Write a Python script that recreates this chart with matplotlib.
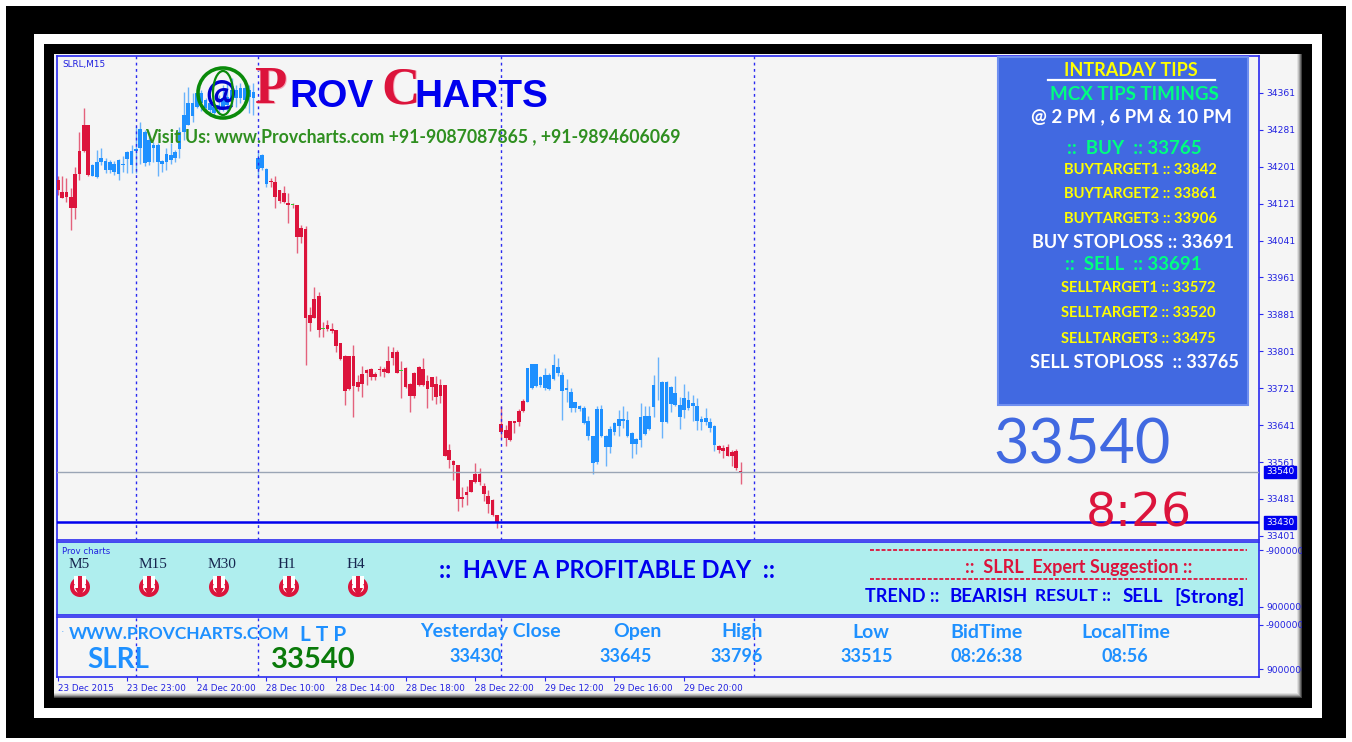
import matplotlib
matplotlib.use('Agg')
import numpy as np
import matplotlib.pyplot as plt
from matplotlib.patches import Rectangle, Circle, Polygon

highs = [34180,34180,34176,34154,34200,34276,34328,34292,34208,34237,
         34241,34219,34216,34214,34217,34224,34236,34248,34288,34299,
         34281,34277,34255,34252,34216,34241,34252,34237,34288,34364,
         34373,34360,34375,34367,34349,34346,34342,34357,34378,34382,
         34393,34378,34382,34386,34378,34382,34235,34228,34198,34176,
         34180,34151,34160,34144,34122,34118,34075,34072,33896,33941,
         33930,33865,33869,33863,33847,33820,33793,33791,33815,33750,
         33769,33762,33764,33757,33769,33766,33813,33810,33803,33779,
         33766,33732,33757,33769,33786,33750,33746,33748,33740,33728,
         33600,33566,33555,33507,33508,33522,33559,33548,33515,33501,
         33481,33447,33682,33642,33649,33649,33676,33697,33765,33774,
         33774,33747,33765,33755,33796,33786,33757,33741,33721,33692,
         33685,33682,33660,33617,33682,33685,33620,33640,33647,33673,
         33683,33671,33627,33613,33689,33683,33682,33750,33788,33736,
         33736,33725,33748,33702,33730,33714,33707,33700,33660,33679,
         33656,33642,33598,33598,33600,33588,33589,33562]
lows = [34140,34133,34125,34064,34087,34172,34234,34181,34180,34176,
        34205,34188,34188,34183,34172,34190,34187,34187,34187,34208,
        34203,34205,34212,34180,34190,34194,34208,34212,34219,34259,
        34292,34299,34328,34321,34317,34310,34310,34317,34321,34321,
        34335,34331,34339,34328,34317,34313,34176,34194,34156,34158,
        34111,34122,34122,34079,34111,34014,34035,33772,33844,33873,
        33833,33833,33844,33840,33800,33782,33685,33717,33658,33714,
        33703,33728,33738,33738,33748,33746,33755,33772,33754,33699,
        33721,33670,33699,33726,33726,33678,33696,33687,33690,33573,
        33548,33522,33454,33463,33468,33496,33515,33512,33476,33450,
        33443,33419,33613,33596,33607,33624,33640,33669,33691,33720,
        33723,33723,33718,33718,33739,33747,33653,33692,33669,33669,
        33671,33644,33608,33535,33557,33615,33553,33581,33620,33617,
        33635,33615,33570,33579,33594,33620,33631,33658,33696,33612,
        33645,33669,33682,33633,33656,33674,33649,33631,33630,33642,
        33625,33584,33580,33570,33573,33553,33543,33513]
tops = [34172,34147,34146,34135,34185,34235,34292,34292,34205,34211,
        34221,34214,34212,34207,34216,34208,34234,34236,34239,34282,
        34277,34259,34248,34248,34214,34229,34227,34234,34277,34313,
        34339,34339,34360,34360,34346,34339,34331,34335,34349,34353,
        34367,34367,34371,34371,34367,34364,34220,34227,34196,34171,
        34167,34151,34144,34122,34120,34117,34069,34066,33880,33914,
        33920,33851,33858,33849,33847,33820,33790,33790,33790,33735,
        33752,33761,33762,33752,33763,33762,33780,33800,33800,33760,
        33764,33730,33755,33766,33762,33737,33745,33730,33728,33728,
        33587,33564,33554,33486,33496,33521,33535,33535,33509,33488,
        33479,33447,33644,33631,33649,33649,33671,33694,33765,33774,
        33774,33745,33749,33750,33772,33767,33750,33721,33713,33691,
        33682,33679,33649,33617,33677,33676,33618,33632,33645,33655,
        33654,33653,33624,33611,33658,33660,33661,33728,33741,33734,
        33734,33723,33710,33684,33700,33695,33689,33682,33654,33656,
        33647,33640,33596,33591,33593,33582,33584,33542]
bottoms = [34151,34133,34135,34112,34112,34185,34235,34183,34180,34178,
           34212,34193,34193,34189,34185,34205,34217,34205,34236,34241,
           34210,34212,34241,34212,34208,34212,34216,34219,34239,34277,
           34292,34310,34331,34339,34328,34324,34317,34328,34328,34335,
           34346,34349,34349,34346,34353,34349,34196,34198,34163,34168,
           34136,34127,34124,34118,34119,34048,34048,33873,33862,33873,
           33847,33850,33850,33844,33813,33784,33714,33719,33725,33723,
           33730,33755,33745,33746,33761,33757,33755,33786,33754,33759,
           33723,33704,33704,33728,33728,33719,33723,33703,33705,33574,
           33566,33555,33481,33481,33490,33497,33517,33517,33492,33470,
           33447,33430,33627,33613,33608,33645,33647,33671,33692,33721,
           33725,33729,33721,33719,33741,33755,33714,33718,33678,33678,
           33677,33645,33618,33559,33562,33617,33594,33594,33625,33638,
           33649,33618,33599,33599,33608,33622,33632,33680,33740,33648,
           33648,33687,33685,33658,33673,33679,33683,33649,33648,33647,
           33635,33597,33586,33584,33575,33575,33548,33539]
# r red, b blue, g doji on a red wick, h doji on a blue wick
trend = 'r'*8 + 'b'*41 + 'r'*5 + 'g' + 'r'*6 + 'g' + 'r'*17 + 'g' + 'r'*28 + 'b'*30 + 'h' + 'b'*13 + 'r'*6

price_ticks = [34361,34281,34201,34121,34041,33961,33881,33801,33721,33641,33561,33481,33401]
last_price = 33540
prev_close = 33430
period_bars = [18, 46, 102, 160]
time_bars = [0, 16, 32, 48, 64, 80, 96, 112, 128, 144]
time_labels = ['23 Dec 2015', '23 Dec 23:00', '24 Dec 20:00', '28 Dec 10:00', '28 Dec 14:00',
               '28 Dec 18:00', '28 Dec 22:00', '29 Dec 12:00', '29 Dec 16:00', '29 Dec 20:00']
timeframes = ['M5', 'M15', 'M30', 'H1', 'H4']

RED = '#DC143C'
BLUE = '#1E90FF'
GREEN = '#32CD32'
AXIS = '#2a2af0'
GREY = '#f5f5f5'
W, H = 1352, 742

def rect_of(x0, y0, x1, y1):
    return [x0/W, 1-y1/H, (x1-x0)/W, (y1-y0)/H]

fig = plt.figure(figsize=(W/100, H/100), dpi=100, facecolor='white')

# picture frame behind the charts
bg = fig.add_axes([0, 0, 1, 1], zorder=0)
bg.set_xlim(0, W)
bg.set_ylim(H, 0)
bg.axis('off')
for (x0, y0, x1, y1, c) in [(6, 6, 1346, 738, 'black'), (34, 34, 1322, 718, 'white'),
                            (44, 44, 1312, 708, 'black'), (54, 54, 1302, 698, GREY)]:
    bg.add_patch(Rectangle((x0, y0), x1-x0, y1-y0, fc=c, ec='none'))
for k, c in enumerate(['#e0e0e0', '#c4c4c4', '#a0a0a0', '#707070', '#404040']):
    bg.add_patch(Rectangle((54, 693+k), 1248, 1, fc=c, ec='none'))
    bg.add_patch(Rectangle((1297+k, 54), 1, 644, fc=c, ec='none'))

xs = np.arange(len(highs))
xlim = (-0.16, 276.2)

def style_panel(ax):
    ax.set_xlim(*xlim)
    ax.yaxis.tick_right()
    ax.tick_params(axis='y', length=3, width=0.8, color=AXIS, labelcolor='#2020e0', labelsize=6.6, pad=2)
    ax.tick_params(axis='x', length=0)
    ax.set_xticks([])
    for s in ax.spines.values():
        s.set_color(AXIS)
        s.set_linewidth(1.2)
    for lab in ax.get_yticklabels():
        lab.set_family('DejaVu Sans')

# price chart
ax = fig.add_axes(rect_of(57, 56, 1259, 540), zorder=1, facecolor=GREY)
ax.set_ylim(33392, 34441)
for i in xs:
    t = trend[i]
    wick = BLUE if t in 'bh' else RED
    body = GREEN if t in 'gh' else wick
    ax.vlines(i, lows[i], highs[i], color=wick, lw=1, alpha=0.65, zorder=2)
    ax.bar(i, max(tops[i]-bottoms[i], 1.5), bottom=bottoms[i], width=0.85, color=body, linewidth=0, zorder=3)
ax.axhline(last_price, color='#9aa5b5', lw=1, zorder=4)
ax.axhline(prev_close, color='#0000ee', lw=1.8, zorder=4)
ax.set_yticks(price_ticks)
ax.set_yticklabels([str(p) for p in price_ticks])
style_panel(ax)
for v in period_bars:
    ax.axvline(v, color='#2a2af0', lw=1, ls=(0, (2, 2.5)), zorder=5)
for p in (last_price, prev_close):
    ax.annotate(str(p), xy=(1, p), xycoords=ax.get_yaxis_transform(), xytext=(5, 0), textcoords='offset points',
                va='center', ha='left', fontsize=6.4, color='white', family='DejaVu Sans',
                bbox=dict(boxstyle='square,pad=0.18', fc='#0000ee', ec='#0000ee'), annotation_clip=False, zorder=9)

# signal panel
ax2 = fig.add_axes(rect_of(57, 542, 1259, 615), zorder=1, facecolor='#AFEEEE')
ax2.set_ylim(11526316, -11526316)
ax2.set_yticks([-9000000, 9000000])
ax2.set_yticklabels(['-9000000', '9000000'])
style_panel(ax2)

# info panel
ax3 = fig.add_axes(rect_of(57, 617, 1259, 677), zorder=1, facecolor=GREY)
ax3.set_ylim(12272727, -12272727)
ax3.set_yticks([-9000000, 9000000])
ax3.set_yticklabels(['-9000000', '9000000'])
style_panel(ax3)
for v in period_bars:
    ax3.axvline(v, color='#2a2af0', lw=1, ls=(0, (2, 2.5)), zorder=5)
ax3.set_xticks(time_bars)
ax3.set_xticklabels(time_labels, ha='left', fontsize=6.3, color='#2020e0', family='DejaVu Sans')
ax3.tick_params(axis='x', length=3, width=0.8, color=AXIS, pad=2)

# everything painted by the indicators goes on a pixel overlay
over = fig.add_axes([0, 0, 1, 1], zorder=3)
over.set_xlim(0, W)
over.set_ylim(H, 0)
over.axis('off')
over.patch.set_visible(False)
over.add_patch(Rectangle((1302, 540), 10, 150, fc='black', ec='none', zorder=8))

def put(x, y, s, size, color, ha='center', weight='bold', family='Lato', **kw):
    return over.text(x, y, s, fontsize=size, color=color, ha=ha, va='center', fontweight=weight, family=family, zorder=6, **kw)

put(62, 64, 'SLRL,M15', 6.4, '#2020e0', ha='left', weight='normal', family='DejaVu Sans')

# logo
put(221, 96, '@', 26, '#0000cd')
over.add_patch(Circle((223, 93), 25, fc='none', ec='#0a8a0a', lw=2.6, zorder=6))
over.add_patch(plt.matplotlib.patches.Ellipse((223, 93), 20, 44, fc='none', ec='#0a8a0a', lw=1.6, zorder=6))
put(255, 91, 'P', 38, '#f4a8b8', ha='left', family='Liberation Serif')
put(254, 90, 'P', 38, RED, ha='left', family='Liberation Serif')
put(289, 97, 'ROV', 28, '#0000ee', ha='left', family='Liberation Sans')
put(382, 91, 'C', 38, '#f4a8b8', ha='left', family='Liberation Serif')
put(381, 90, 'C', 38, RED, ha='left', family='Liberation Serif')
put(414, 97, 'HARTS', 28, '#0000ee', ha='left', family='Liberation Sans')
put(145, 137, 'Visit Us: www.Provcharts.com +91-9087087865 , +91-9894606069', 12.7, '#2f8f20', ha='left')

# tips box
over.add_patch(Rectangle((998, 57), 250, 348, fc='#4169E1', ec='#6f8ff0', lw=1.5, zorder=5))
over.plot([1048, 1215], [80, 80], color='white', lw=1.6, zorder=6)
YEL = '#FFFF00'
SPR = '#00FF7F'
tips = [(1131, 70, 'INTRADAY TIPS', 13, YEL), (1134, 94, 'MCX TIPS TIMINGS', 13.5, SPR),
        (1131, 117, '@ 2 PM , 6 PM & 10 PM', 13.5, 'white'), (1134, 149, '::  BUY  :: 33765', 13.5, SPR),
        (1140, 170, 'BUYTARGET1 :: 33842', 10.6, YEL), (1140, 194, 'BUYTARGET2 :: 33861', 10.6, YEL),
        (1140, 219, 'BUYTARGET3 :: 33906', 10.6, YEL), (1133, 243, 'BUY STOPLOSS :: 33691', 13, 'white'),
        (1133, 265, '::  SELL  :: 33691', 13.5, SPR), (1138, 288, 'SELLTARGET1 :: 33572', 10.6, YEL),
        (1138, 313, 'SELLTARGET2 :: 33520', 10.6, YEL), (1138, 339, 'SELLTARGET3 :: 33475', 10.6, YEL),
        (1134, 363, 'SELL STOPLOSS  :: 33765', 13, 'white')]
for (x, y, s, size, c) in tips:
    put(x, y, s, size, c)

put(1082, 446, str(last_price), 44, '#4169E1', weight='normal')
put(1139, 514, '8:26', 34, RED, weight='normal', family='DejaVu Sans')

# signal panel text
put(62, 552, 'Prov charts', 6.2, '#2020e0', ha='left', weight='normal', family='DejaVu Sans')
tf_text_x = [79, 153, 222, 287, 356]
tf_icon_x = [80, 149, 219, 289, 358]
for x, xi, name in zip(tf_text_x, tf_icon_x, timeframes):
    put(x, 564, name, 11, '#16264f', weight='normal', family='Liberation Serif')
    over.add_patch(Circle((xi, 587), 10, fc=RED, ec='none', zorder=6))
    over.add_patch(Circle((xi, 587), 6, fc='white', ec='none', zorder=6))
    over.add_patch(Rectangle((xi-6, 576), 12, 8, fc='white', ec='none', zorder=6))
    over.add_patch(Polygon([[xi-2, 576], [xi+2, 576], [xi+2, 588], [xi+5, 588], [xi, 597], [xi-5, 588], [xi-2, 588]],
                           fc=RED, ec='none', zorder=6))
put(607, 571, '::  HAVE A PROFITABLE DAY  ::', 17, '#0000ee')
over.plot([870, 1247], [550, 550], color=RED, lw=1.3, ls=(0, (2.2, 1)), zorder=6)
over.plot([870, 1247], [579, 579], color=RED, lw=1.3, ls=(0, (2.2, 1)), zorder=6)
put(1079, 567, '::  SLRL  Expert Suggestion ::', 13, RED)
put(902, 596, 'TREND ::', 13, '#0000ee')
put(989, 597, 'BEARISH', 13.5, '#0000ee')
put(1073, 596, 'RESULT ::', 12.5, '#0000ee')
put(1143, 597, 'SELL', 13.5, '#0000ee')
put(1210, 597, '[Strong]', 14, '#0000ee')

# info panel text
put(63, 629, '.', 5, BLUE)
put(179, 634, 'WWW.PROVCHARTS.COM', 12.5, BLUE)
put(323, 635, 'L T P', 15, BLUE)
put(118, 660, 'SLRL', 20, BLUE)
put(313, 660, str(last_price), 21, '#0a7a0a')
heads = [(490, 'Yesterday Close'), (637, 'Open'), (742, 'High'), (871, 'Low'), (987, 'BidTime'), (1126, 'LocalTime')]
vals = [(476, '33430'), (626, '33645'), (737, '33796'), (867, '33515'), (987, '08:26:38'), (1125, '08:56')]
for x, s in heads:
    put(x, 632, s, 14, BLUE)
for x, s in vals:
    put(x, 656, s, 13, BLUE)

fig.savefig('out.png', dpi=100)
